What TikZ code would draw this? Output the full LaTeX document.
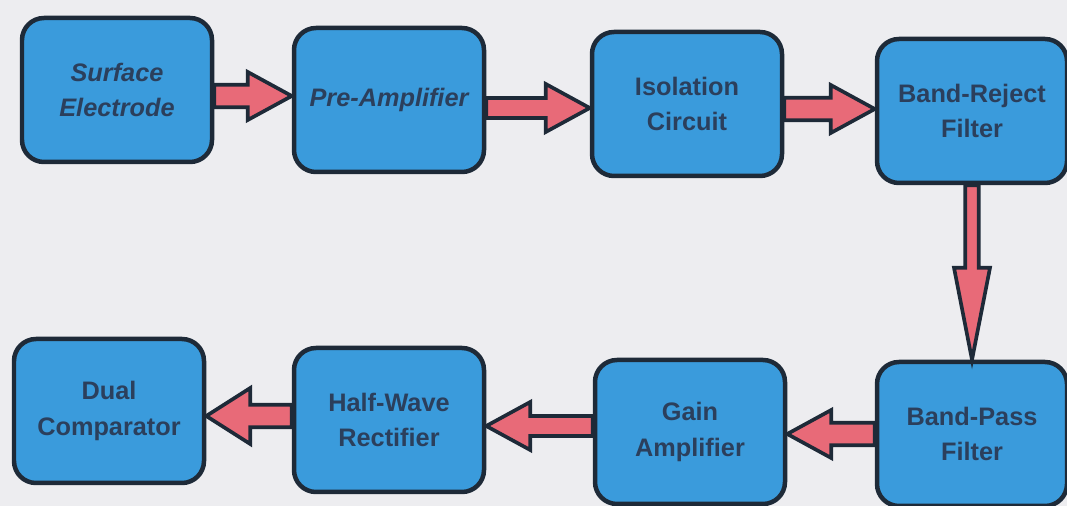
\documentclass[tikz,border=0pt]{standalone}
\usepackage{fontspec}
\setmainfont{Liberation Sans}
\usepackage{xcolor}
\usetikzlibrary{calc}
\definecolor{boxblue}{HTML}{3A9BDC}
\definecolor{boxline}{HTML}{1E2A38}
\definecolor{labelblue}{HTML}{2B3F5C}
\definecolor{arrowpink}{HTML}{E86A78}
\definecolor{paper}{HTML}{EDEDF0}

\tikzset{
  ba shaft/.store in=\bashaft, ba head/.store in=\bahead, ba len/.store in=\balen,
  ba shaft=0.28cm, ba head=0.6cm, ba len=1.1cm,
  blockarrow/.style={draw=boxline, line width=2.6pt, fill=arrowpink, line join=miter,
    to path={
      (\tikztostart) coordinate (ba-a)
      (\tikztotarget) coordinate (ba-b)
      ($(ba-b)!\balen!(ba-a)$) coordinate (ba-n)
      ($(ba-a)!\bashaft!90:(ba-b)$) -- ($(ba-n)!\bashaft!90:(ba-b)$)
      -- ($(ba-n)!\bahead!90:(ba-b)$) -- (ba-b)
      -- ($(ba-n)!\bahead!-90:(ba-b)$) -- ($(ba-n)!\bashaft!-90:(ba-b)$)
      -- ($(ba-a)!\bashaft!-90:(ba-b)$) -- cycle}},
}

\begin{document}
\begin{tikzpicture}[
    stage/.style={draw=boxline, line width=3.2pt, fill=boxblue, rounded corners=0.55cm,
                  minimum width=4.75cm, minimum height=3.6cm, align=center,
                  text=labelblue, font=\bfseries\fontsize{18}{25}\selectfont},
    slanted/.style={font=\bfseries\itshape\fontsize{18}{25}\selectfont},
  ]
    \useasboundingbox (0,0) rectangle (26.675,12.65);
    \fill[paper] (0,0) rectangle (26.675,12.65);

    % top row, left to right
    \node[stage, slanted] (se)     at (2.925,10.4)  {Surface\\Electrode};
    \node[stage, slanted] (preamp) at (9.725,10.15) {Pre-Amplifier};
    \node[stage]          (iso)    at (17.175,10.05) {Isolation\\Circuit};
    \node[stage]          (brf)    at (24.3,9.875)  {Band-Reject\\Filter};

    % bottom row, right to left
    \node[stage] (bpf)  at (24.3,1.8)   {Band-Pass\\Filter};
    \node[stage] (gain) at (17.25,1.85) {Gain\\Amplifier};
    \node[stage] (hwr)  at (9.725,2.15) {Half-Wave\\Rectifier};
    \node[stage] (dc)   at (2.725,2.375) {Dual\\Comparator};

    % arrow ends, kept level
    \coordinate (se-out)   at ($(se.east)+(0,-0.15)$);
    \coordinate (pre-in)   at (se-out -| preamp.west);
    \coordinate (pre-out)  at ($(preamp.east)+(0,-0.2)$);
    \coordinate (iso-in)   at (pre-out -| iso.west);
    \coordinate (brf-in)   at ($(brf.west)+(0,0.05)$);
    \coordinate (iso-out)  at (brf-in -| iso.east);
    \coordinate (gain-in)  at (bpf.west -| gain.east);
    \coordinate (gain-out) at ($(gain.west)+(0,0.15)$);
    \coordinate (hwr-in)   at (gain-out -| hwr.east);
    \coordinate (hwr-out)  at ($(hwr.west)+(0,0.1)$);
    \coordinate (dc-in)    at (hwr-out -| dc.east);

    \draw[blockarrow] (se-out) to (pre-in);
    \draw[blockarrow, ba shaft=0.25cm] (pre-out) to (iso-in);
    \draw[blockarrow] (iso-out) to (brf-in);
    \draw[blockarrow, ba shaft=0.17cm, ba head=0.45cm, ba len=2.3cm] (brf.south) to (bpf.north);
    \draw[blockarrow] (bpf.west) to (gain-in);
    \draw[blockarrow, ba shaft=0.25cm] (gain-out) to (hwr-in);
    \draw[blockarrow, ba head=0.7cm] (hwr-out) to (dc-in);
  \end{tikzpicture}
\end{document}
